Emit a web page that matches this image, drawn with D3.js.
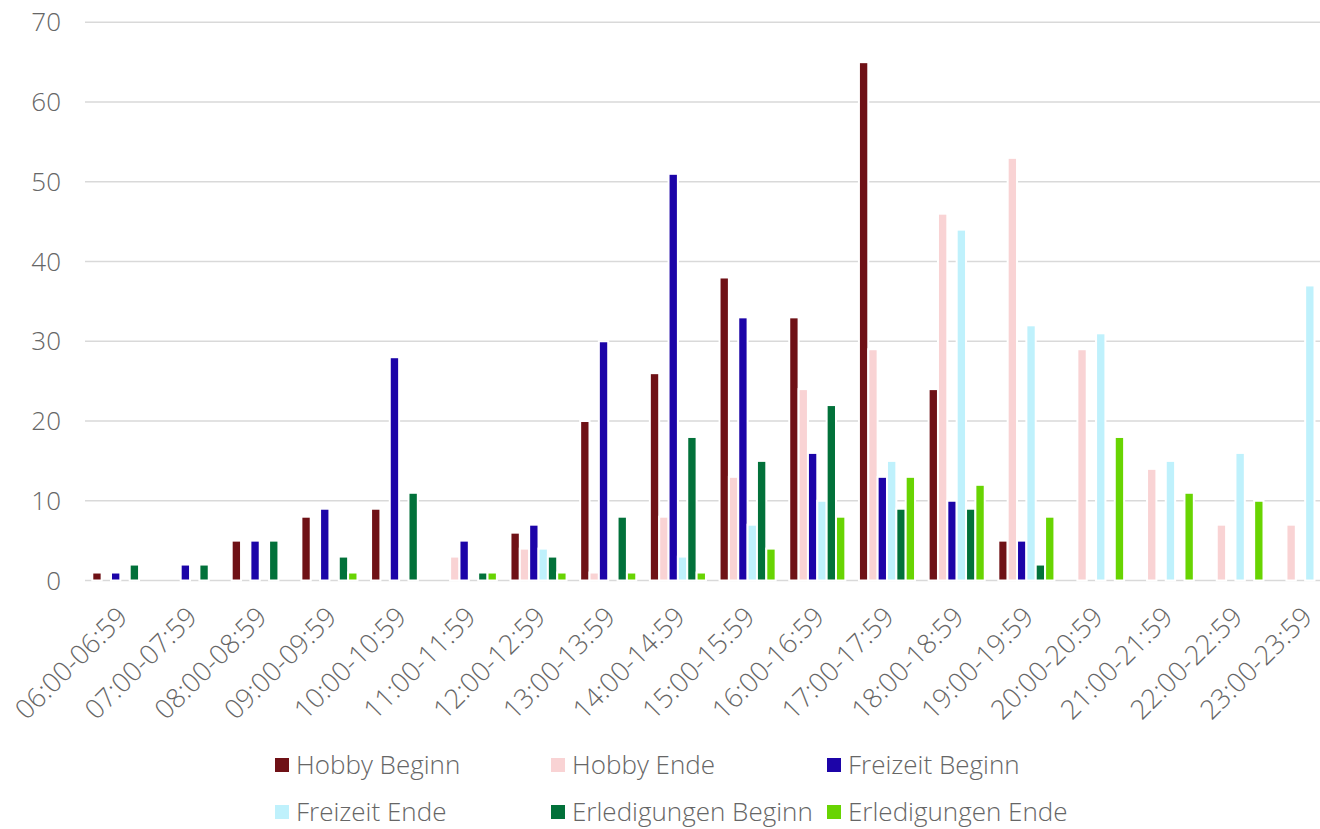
<!DOCTYPE html>
<html>
<head>
<meta charset="utf-8">
<script src="https://cdn.jsdelivr.net/npm/d3@7"></script>
<style>
  html, body { margin: 0; padding: 0; background: #fff; overflow: hidden; }
  svg { display: block; font-family: "Open Sans", sans-serif; font-weight: 300; }
</style>
</head>
<body>
<svg id="chart"></svg>
<script>
// categories (hour slots)
const categories = [
  '06:00-06:59', '07:00-07:59', '08:00-08:59', '09:00-09:59', '10:00-10:59', '11:00-11:59',
  '12:00-12:59', '13:00-13:59', '14:00-14:59', '15:00-15:59', '16:00-16:59', '17:00-17:59',
  '18:00-18:59', '19:00-19:59', '20:00-20:59', '21:00-21:59', '22:00-22:59', '23:00-23:59'
];

const seriesNames = [
  'Hobby Beginn', 'Hobby Ende', 'Freizeit Beginn',
  'Freizeit Ende', 'Erledigungen Beginn', 'Erledigungen Ende'
];

// values per series, one per category
const hobbyBeginn        = [1, 0, 5, 8, 9, 0, 6, 20, 26, 38, 33, 65, 24, 5, 0, 0, 0, 0];
const hobbyEnde          = [0, 0, 0, 0, 0, 3, 4, 1, 8, 13, 24, 29, 46, 53, 29, 14, 7, 7];
const freizeitBeginn     = [1, 2, 5, 9, 28, 5, 7, 30, 51, 33, 16, 13, 10, 5, 0, 0, 0, 0];
const freizeitEnde       = [0, 0, 0, 0, 0, 0, 4, 0, 3, 7, 10, 15, 44, 32, 31, 15, 16, 37];
const erledigungenBeginn = [2, 2, 5, 3, 11, 1, 3, 8, 18, 15, 22, 9, 9, 2, 0, 0, 0, 0];
const erledigungenEnde   = [0, 0, 0, 1, 0, 1, 1, 1, 1, 4, 8, 13, 12, 8, 18, 11, 10, 0];

const yTicks = [0, 10, 20, 30, 40, 50, 60, 70];

const seriesValues = [hobbyBeginn, hobbyEnde, freizeitBeginn, freizeitEnde, erledigungenBeginn, erledigungenEnde];
const colors = ['#6f1116', '#f9d3d4', '#1c04a8', '#bff1fc', '#02713a', '#68d402'];

const width = 1320;
const height = 829;
const textColor = '#666';

const svg = d3.select('#chart')
  .attr('width', width)
  .attr('height', height);

// the plot runs a little past the right edge of the picture
const x0 = d3.scaleBand()
  .domain(categories)
  .range([85.5, 1340])
  .paddingInner(0.195)
  .paddingOuter(0.0975);

const x1 = d3.scaleBand()
  .domain(seriesNames)
  .range([0, x0.bandwidth()]);

const y = d3.scaleLinear()
  .domain([0, 70])
  .range([580.5, 22.3]);

// gridlines
svg.append('g')
  .selectAll('line')
  .data(yTicks)
  .enter()
  .append('line')
  .attr('x1', 85)
  .attr('x2', 1340)
  .attr('y1', d => y(d))
  .attr('y2', d => y(d))
  .attr('stroke', '#d9d9d9')
  .attr('stroke-width', 1.6);

// y labels
svg.append('g')
  .selectAll('text')
  .data(yTicks)
  .enter()
  .append('text')
  .attr('x', 61)
  .attr('y', d => y(d))
  .attr('dy', '0.35em')
  .attr('text-anchor', 'end')
  .attr('font-size', 26)
  .attr('fill', textColor)
  .text(d => d);

// bars
const rows = [];
categories.forEach((c, i) => {
  seriesNames.forEach((s, j) => {
    rows.push({ cat: c, series: s, value: seriesValues[j][i], color: colors[j] });
  });
});

svg.append('g')
  .selectAll('rect')
  .data(rows.filter(d => d.value > 0))
  .enter()
  .append('rect')
  .attr('x', d => x0(d.cat) + x1(d.series))
  .attr('y', d => y(d.value))
  .attr('width', x1.bandwidth())
  .attr('height', d => y(0) - y(d.value))
  .attr('fill', d => d.color)
  .attr('stroke', '#fff')
  .attr('stroke-width', 2);

// x labels, rotated
svg.append('g')
  .selectAll('text')
  .data(categories)
  .enter()
  .append('text')
  .attr('transform', d => `translate(${x0(d) + x0.bandwidth() / 2 + 2}, 612) rotate(-45)`)
  .attr('dy', '0.35em')
  .attr('text-anchor', 'end')
  .attr('font-size', 27)
  .attr('fill', textColor)
  .text(d => d);

// legend: 3 columns, 2 rows
const legend = svg.append('g')
  .selectAll('g')
  .data(seriesNames)
  .enter()
  .append('g')
  .attr('transform', (d, i) => `translate(${275 + (i % 3) * 276}, ${758 + Math.floor(i / 3) * 47})`);

legend.append('rect')
  .attr('width', 14)
  .attr('height', 14)
  .attr('fill', (d, i) => colors[i]);

legend.append('text')
  .attr('x', 21)
  .attr('y', 7)
  .attr('dy', '0.35em')
  .attr('font-size', 26)
  .attr('fill', textColor)
  .text(d => d);
</script>
</body>
</html>
